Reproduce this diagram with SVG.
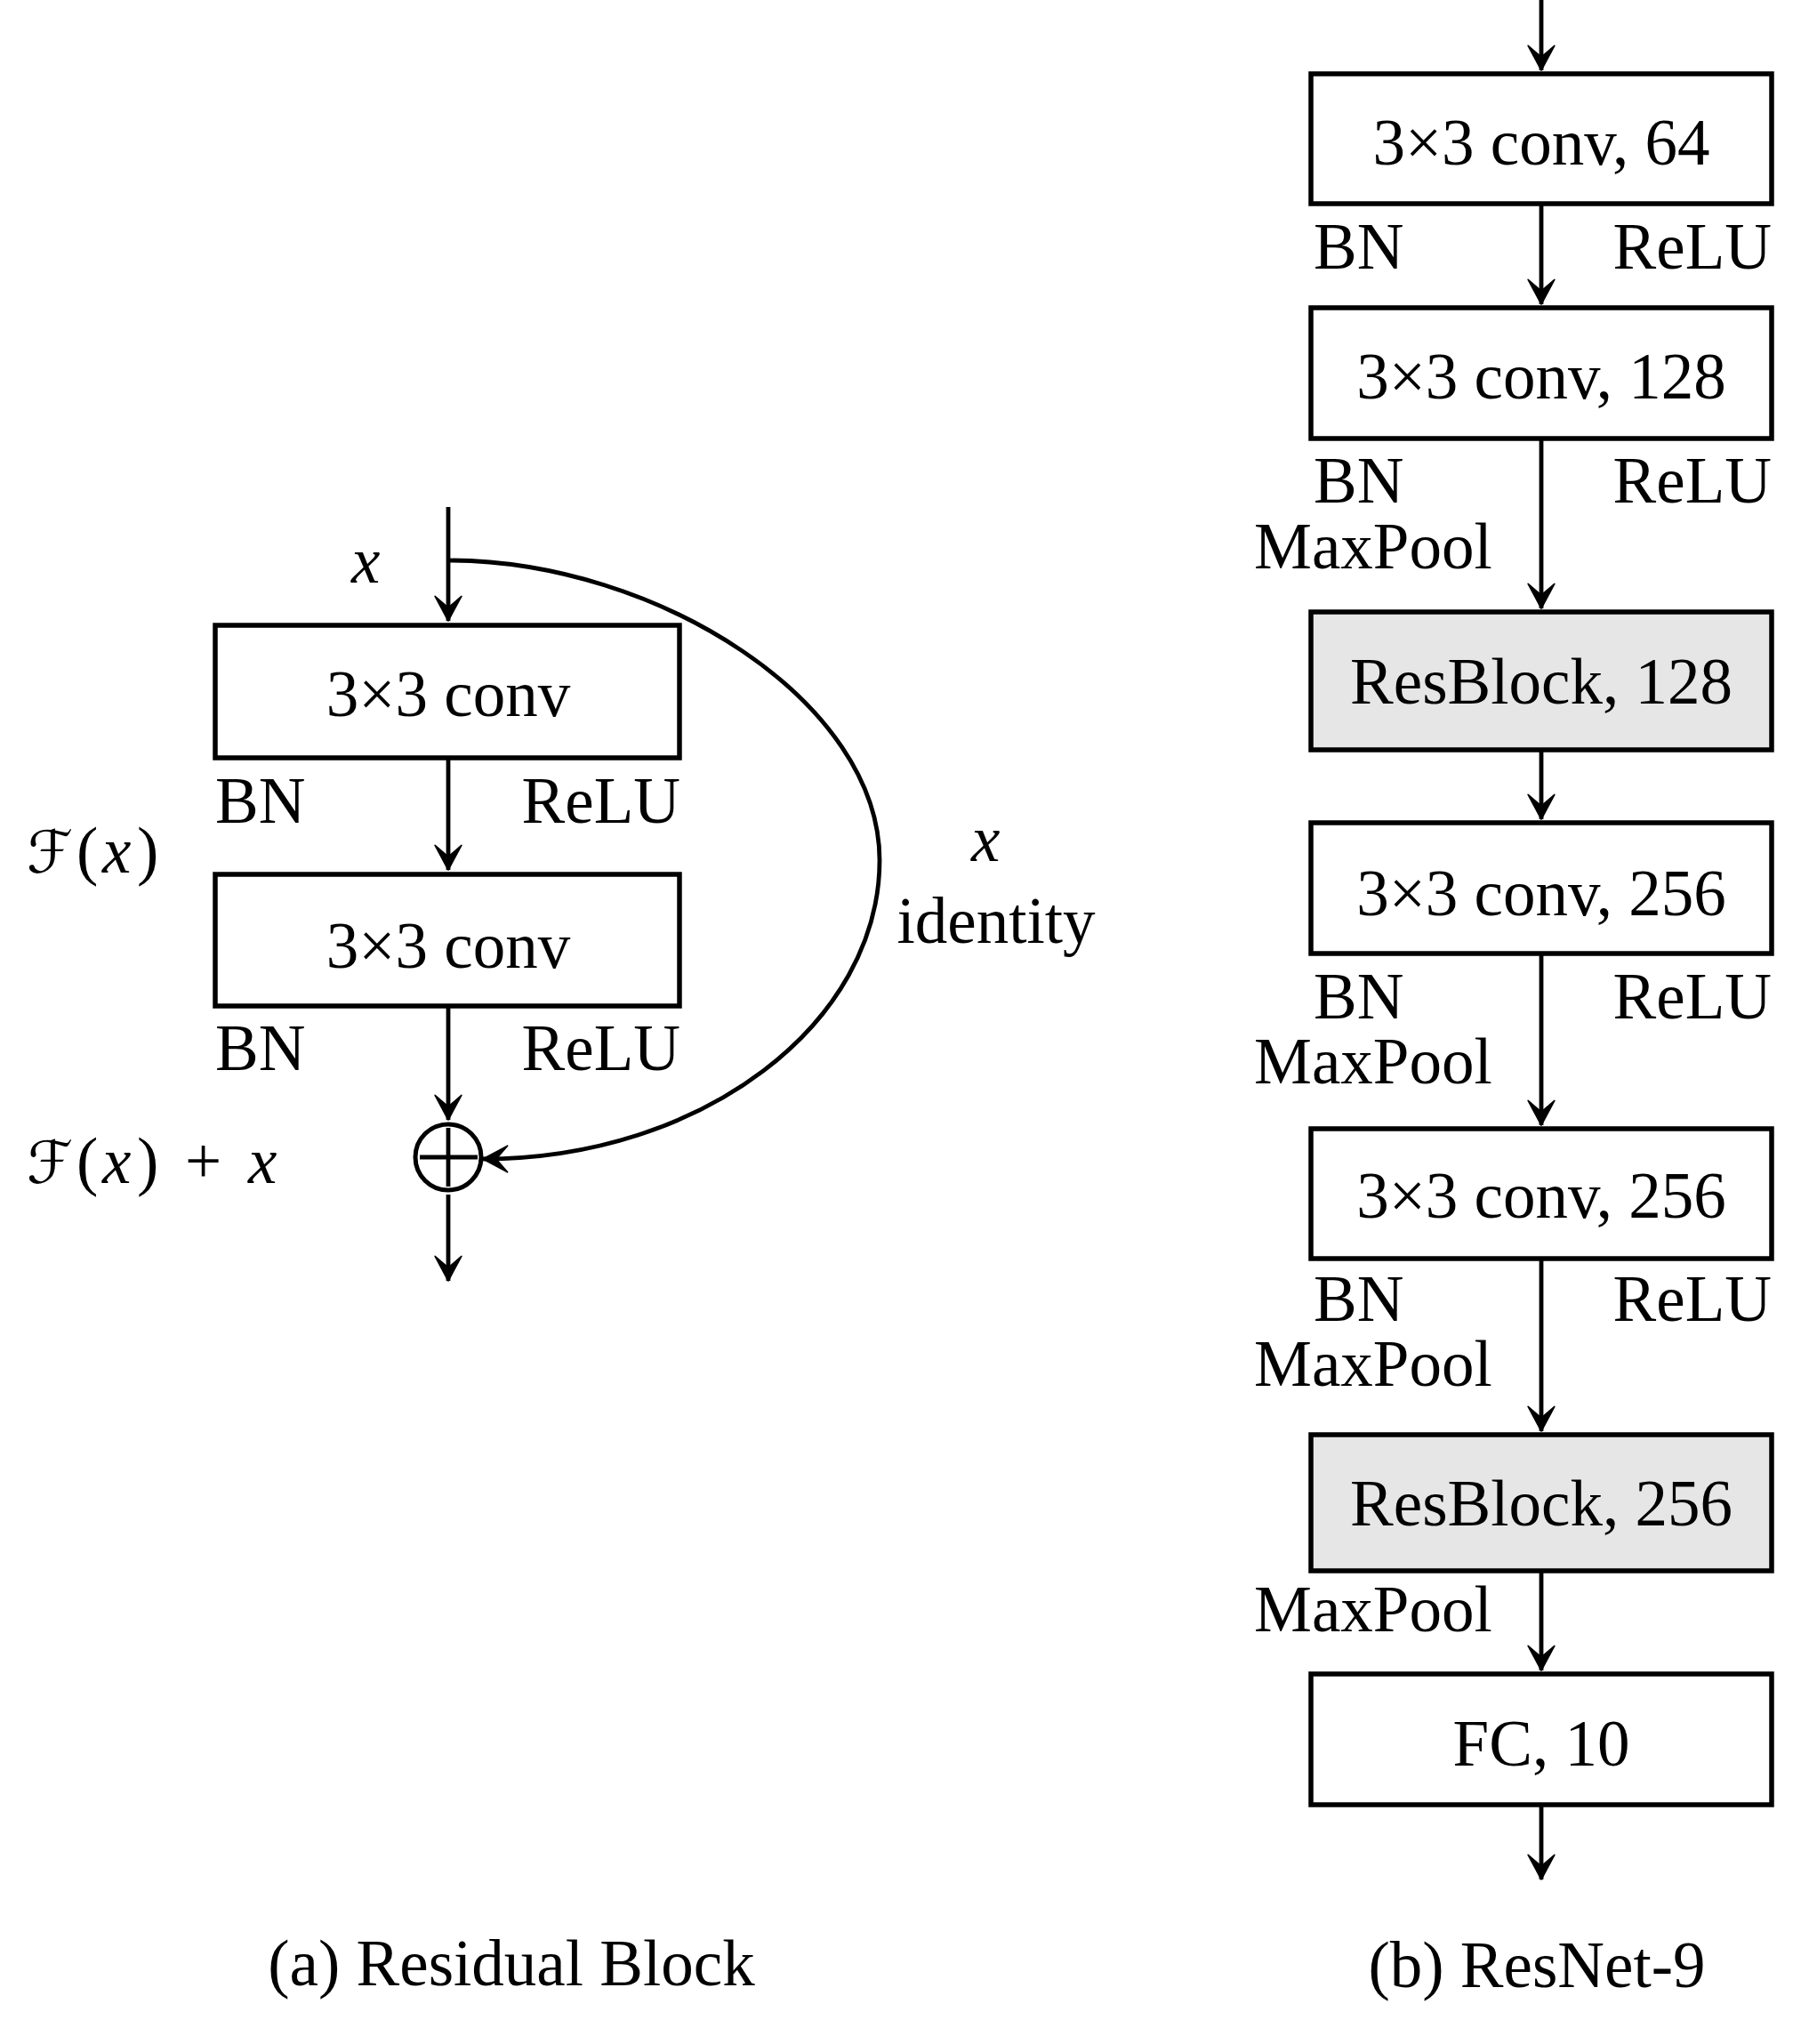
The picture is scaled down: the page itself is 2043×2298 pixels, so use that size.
<svg xmlns="http://www.w3.org/2000/svg" width="2043" height="2298" viewBox="0 0 2043 2298">
<style>
.box{fill:#fff;stroke:#000;stroke-width:5.5}
.gray{fill:#e6e6e6;stroke:#000;stroke-width:5.5}
.ln{fill:none;stroke:#000;stroke-width:4.8}
.t{font-family:"Liberation Serif","Times New Roman",serif;font-size:73px;fill:#000}
.c{text-anchor:middle}
.e{text-anchor:end}
.m{font-family:"Liberation Serif","Times New Roman",serif;font-style:italic;font-size:73px;fill:#000}
.s{font-family:"DejaVu Serif","DejaVu Sans","Noto Sans",serif;font-style:italic;font-size:66px;fill:#000}
</style>
<defs>
<marker id="ah" markerUnits="userSpaceOnUse" markerWidth="34" markerHeight="34" viewBox="-28 -16 32 32" refX="0" refY="0" orient="auto">
<path d="M0,0 L-26,-14 L-14,0 L-26,14 Z" fill="#000" stroke="#000" stroke-width="1.5" stroke-linejoin="round"/>
</marker>
</defs>
<rect width="2043" height="2298" fill="#fff"/>

<g id="connectors">
<line class="ln" x1="504" y1="570" x2="504" y2="698" marker-end="url(#ah)"/>
<line class="ln" x1="504" y1="852" x2="504" y2="978" marker-end="url(#ah)"/>
<line class="ln" x1="504" y1="1131" x2="504" y2="1259" marker-end="url(#ah)"/>
<line class="ln" x1="504" y1="1343" x2="504" y2="1440" marker-end="url(#ah)"/>
<path class="ln" d="M504,630 C740,630 989,790 989,967 C989,1150 790,1303 543,1303" marker-end="url(#ah)"/>
<line class="ln" x1="1733" y1="0" x2="1733" y2="79" marker-end="url(#ah)"/>
<line class="ln" x1="1733" y1="229" x2="1733" y2="342" marker-end="url(#ah)"/>
<line class="ln" x1="1733" y1="493" x2="1733" y2="684" marker-end="url(#ah)"/>
<line class="ln" x1="1733" y1="843" x2="1733" y2="921" marker-end="url(#ah)"/>
<line class="ln" x1="1733" y1="1072" x2="1733" y2="1265" marker-end="url(#ah)"/>
<line class="ln" x1="1733" y1="1415" x2="1733" y2="1609" marker-end="url(#ah)"/>
<line class="ln" x1="1733" y1="1766" x2="1733" y2="1878" marker-end="url(#ah)"/>
<line class="ln" x1="1733" y1="2029" x2="1733" y2="2113" marker-end="url(#ah)"/>
</g>

<g id="res-conv1">
<rect class="box" x="242" y="703" width="522" height="149"/>
<text class="t c" x="504" y="805">3×3 conv</text>
</g>
<g id="res-conv2">
<rect class="box" x="242" y="983" width="522" height="148"/>
<text class="t c" x="504" y="1088">3×3 conv</text>
</g>
<g id="res-add">
<circle cx="504" cy="1301" r="37" fill="#fff" stroke="#000" stroke-width="5"/>
<line class="ln" x1="472" y1="1301" x2="537" y2="1301"/>
<line class="ln" x1="504" y1="1268" x2="504" y2="1334"/>
</g>
<g id="res-labels">
<text class="m" x="395" y="655">x</text>
<text class="t" x="242" y="925">BN</text>
<text class="t e" x="765" y="925">ReLU</text>
<text class="t" x="242" y="1203">BN</text>
<text class="t e" x="765" y="1203">ReLU</text>
<text x="30" y="981"><tspan class="s" x="30">ℱ</tspan><tspan class="t" x="86">(</tspan><tspan class="m" x="115">x</tspan><tspan class="t" x="154">)</tspan></text>
<text x="30" y="1330"><tspan class="s" x="30">ℱ</tspan><tspan class="t" x="86">(</tspan><tspan class="m" x="115">x</tspan><tspan class="t" x="154">)</tspan><tspan class="t" x="208">+</tspan><tspan class="m" x="279">x</tspan></text>
<text class="m" x="1092" y="968">x</text>
<text class="t c" x="1120" y="1060">identity</text>
<text class="t c" x="575" y="2232">(a) Residual Block</text>
</g>

<g id="conv64">
<rect class="box" x="1474" y="83" width="518" height="146"/>
<text class="t c" x="1733" y="185">3×3 conv, 64</text>
</g>
<g id="conv128">
<rect class="box" x="1474" y="346" width="518" height="147"/>
<text class="t c" x="1733" y="448">3×3 conv, 128</text>
</g>
<g id="resblock128">
<rect class="gray" x="1474" y="688" width="518" height="155"/>
<text class="t c" x="1733" y="791">ResBlock, 128</text>
</g>
<g id="conv256a">
<rect class="box" x="1474" y="925" width="518" height="147"/>
<text class="t c" x="1733" y="1029">3×3 conv, 256</text>
</g>
<g id="conv256b">
<rect class="box" x="1474" y="1269" width="518" height="146"/>
<text class="t c" x="1733" y="1369">3×3 conv, 256</text>
</g>
<g id="resblock256">
<rect class="gray" x="1474" y="1613" width="518" height="153"/>
<text class="t c" x="1733" y="1715">ResBlock, 256</text>
</g>
<g id="fc10">
<rect class="box" x="1474" y="1882" width="518" height="147"/>
<text class="t c" x="1733" y="1985">FC, 10</text>
</g>
<g id="resnet-labels">
<text class="t" x="1477" y="302">BN</text>
<text class="t e" x="1992" y="302">ReLU</text>
<text class="t" x="1477" y="565">BN</text>
<text class="t e" x="1992" y="565">ReLU</text>
<text class="t" x="1410" y="639">MaxPool</text>
<text class="t" x="1477" y="1145">BN</text>
<text class="t e" x="1992" y="1145">ReLU</text>
<text class="t" x="1410" y="1218">MaxPool</text>
<text class="t" x="1477" y="1485">BN</text>
<text class="t e" x="1992" y="1485">ReLU</text>
<text class="t" x="1410" y="1558">MaxPool</text>
<text class="t" x="1410" y="1834">MaxPool</text>
<text class="t c" x="1728" y="2234">(b) ResNet-9</text>
</g>
</svg>
